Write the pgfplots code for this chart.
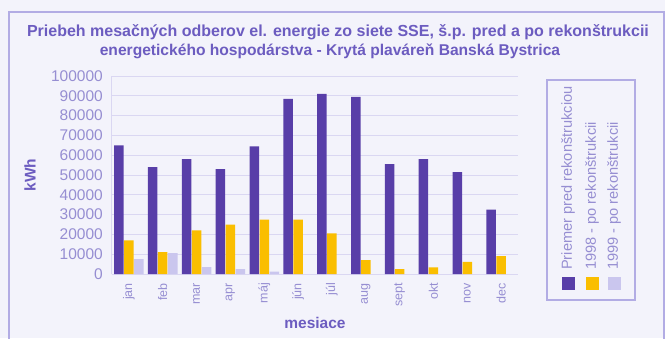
\documentclass[border=0pt]{standalone}
\usepackage{fontspec}
\setmainfont{Liberation Sans}
\usepackage{pgfplots}
\pgfplotsset{compat=1.18}

\definecolor{barPurple}{RGB}{88,62,168}
\definecolor{barYellow}{RGB}{250,190,0}
\definecolor{barLilac}{RGB}{202,198,238}
\definecolor{gridLilac}{RGB}{218,215,242}
\definecolor{tickLilac}{RGB}{150,142,210}
\definecolor{titlePurple}{RGB}{108,92,192}
\definecolor{frameLilac}{RGB}{178,172,228}
\definecolor{pageTint}{RGB}{243,243,251}

\begin{document}
\begin{tikzpicture}
\useasboundingbox (0pt,0pt) rectangle (665pt,338pt);
\clip (0pt,0pt) rectangle (665pt,338pt);
\fill[pageTint] (0pt,0pt) rectangle (665pt,338pt);
\draw[frameLilac, line width=1.6pt] (9pt,-10pt) -- (9pt,326pt) -- (664pt,326pt) -- (664pt,-10pt);

% title
\node[text=titlePurple, font=\bfseries\fontsize{16}{18}\selectfont, anchor=center]
  at (338pt,306pt) {Priebeh mesačných odberov el. energie zo siete SSE, š.p. pred a po rekonštrukcii};
\node[text=titlePurple, font=\bfseries\fontsize{15.6}{18}\selectfont, anchor=center]
  at (330pt,287pt) {energetického hospodárstva - Krytá plaváreň Banská Bystrica};

\begin{axis}[
  at={(112pt,64pt)}, anchor=south west,
  scale only axis, width=406pt, height=198pt,
  ybar=0.5pt, bar width=9.5pt,
  xmin=-0.5, xmax=11.5,
  ymin=0, ymax=100000,
  ytick={0,10000,...,100000},
  scaled y ticks=false,
  /pgf/number format/fixed,
  /pgf/number format/1000 sep={},
  /pgf/number format/assume math mode=true,
  yticklabel style={text=tickLilac, font=\fontsize{15.5}{17}\selectfont, inner sep=0pt, xshift=-9pt},
  xtick={0,...,11},
  xticklabels={jan,feb,mar,apr,máj,jún,júl,aug,sept,okt,nov,dec},
  xticklabel style={text=tickLilac, font=\fontsize{12.5}{14}\selectfont, rotate=90, anchor=east, inner sep=0pt},
  xticklabel shift=9pt,
  major tick length=0pt,
  ymajorgrids, grid style={gridLilac, line width=0.9pt},
  axis x line*=bottom, axis y line*=left,
  axis line style={gridLilac, line width=1pt, -},
  xlabel={mesiace},
  xlabel style={at={(rel axis cs:0.5,0)}, anchor=center, yshift=-49pt, text=titlePurple,
    font=\bfseries\fontsize{15.5}{17}\selectfont},
  ylabel={kWh},
  ylabel style={at={(axis description cs:-0.202,0.5)}, anchor=center, text=titlePurple,
    font=\bfseries\fontsize{15.5}{17}\selectfont},
]
\addplot[draw=none, fill=barPurple] coordinates {
  (0,65000) (1,54000) (2,58000) (3,53000) (4,64500) (5,88500)
  (6,91000) (7,89500) (8,55500) (9,58000) (10,51500) (11,32500)};
\addplot[draw=none, fill=barYellow] coordinates {
  (0,17000) (1,11000) (2,22000) (3,25000) (4,27500) (5,27500)
  (6,20500) (7,7000) (8,2500) (9,3300) (10,6100) (11,9000)};
\addplot[draw=none, fill=barLilac] coordinates {
  (0,7500) (1,10500) (2,3500) (3,2500) (4,1200)};
\end{axis}

% legend: swatches at the foot, entries written upwards
\draw[frameLilac, line width=1.3pt] (547pt,38pt) rectangle (635pt,258pt);
\fill[barPurple] (561.5pt,48.5pt) rectangle (574.5pt,61.5pt);
\fill[barYellow] (585.5pt,48.5pt) rectangle (598.5pt,61.5pt);
\fill[barLilac]  (607.5pt,48.5pt) rectangle (620.5pt,61.5pt);
\begin{scope}[every node/.style={text=tickLilac, font=\fontsize{14.6}{16}\selectfont,
    rotate=90, anchor=west, inner sep=0pt}]
  \node at (568pt,68pt) {Priemer pred rekonštrukciou};
  \node at (592pt,68pt) {1998 - po rekonštrukcii};
  \node at (614pt,68pt) {1999 - po rekonštrukcii};
\end{scope}
\end{tikzpicture}
\end{document}
